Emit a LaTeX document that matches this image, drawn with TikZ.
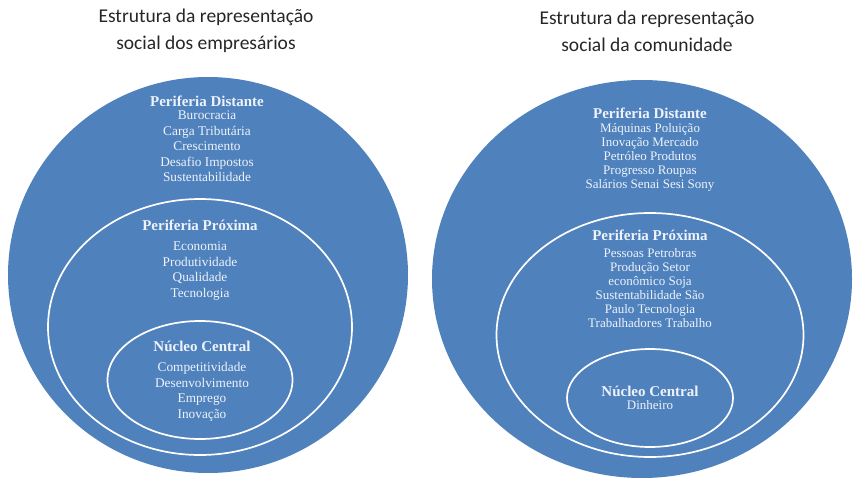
\documentclass[tikz,border=0pt]{standalone}
\usepackage{fontspec}
\setmainfont{Liberation Serif}
\newfontfamily\titlefont{Carlito}
\usepackage{xcolor}
\usetikzlibrary{shapes.geometric, positioning}
\definecolor{ringblue}{HTML}{4F81BD}
\definecolor{ringtext}{HTML}{EEF3FB}
\tikzstyle{outer} = [ellipse, fill=ringblue, inner sep=0pt]
\tikzstyle{ring} = [ellipse, draw=white, line width=1.7pt, inner sep=0pt]
\tikzstyle{title} = [align=center, text=black!85, font=\titlefont\fontsize{19.5}{27}\selectfont]
\tikzstyle{head} = [inner sep=0pt, text=ringtext, font=\bfseries\fontsize{15}{15}\selectfont]
\tikzstyle{items} = [align=center, inner sep=0pt, text=ringtext, font=\fontsize{13.3}{15.5}\selectfont]
\tikzstyle{smallitems} = [align=center, inner sep=0pt, text=ringtext, font=\fontsize{13}{14}\selectfont]

\begin{document}
\begin{tikzpicture}[x=1pt, y=-1pt, node distance=4pt]
        \useasboundingbox (0,0) rectangle (854,479);

        % empresarios
        \node[title] (titleA) at (206,31) {Estrutura da representação\\social dos empresários};
        \node[outer, minimum width=400pt, minimum height=396pt] (outerA) at (208,275) {};
        \node[ring, minimum width=304pt, minimum height=256pt] (midA) at (200,327) {};
        \node[ring, minimum width=185pt, minimum height=118pt] (coreA) at (200,380) {};
        \node[head] (distA) at (207,101) {Periferia Distante};
        \node[items, below=4pt of distA] (distAlist) {Burocracia\\Carga Tributária\\Crescimento\\Desafio Impostos\\Sustentabilidade};
        \node[head] (proxA) at (200,225) {Periferia Próxima};
        \node[items, below=11pt of proxA] (proxAlist) {Economia\\Produtividade\\Qualidade\\Tecnologia};
        \node[head] (nucA) at (202,346) {Núcleo Central};
        \node[items, below=11pt of nucA] (nucAlist) {Competitividade\\Desenvolvimento\\Emprego\\Inovação};

        % comunidade
        \node[title] (titleB) at (647,31) {Estrutura da representação\\social da comunidade};
        \node[outer, minimum width=420pt, minimum height=398pt] (outerB) at (642,279) {};
        \node[ring, minimum width=307pt, minimum height=244pt] (midB) at (650,335) {};
        \node[ring, minimum width=166pt, minimum height=98pt] (coreB) at (650,398) {};
        \node[head] (distB) at (650,113) {Periferia Distante};
        \node[smallitems, below=5pt of distB] (distBlist) {Máquinas Poluição\\Inovação Mercado\\Petróleo Produtos\\Progresso Roupas\\Salários Senai Sesi Sony};
        \node[head] (proxB) at (650,235) {Periferia Próxima};
        \node[smallitems, below=8pt of proxB] (proxBlist) {Pessoas Petrobras\\Produção Setor\\econômico Soja\\Sustentabilidade São\\Paulo Tecnologia\\Trabalhadores Trabalho};
        \node[head] (nucB) at (650,391) {Núcleo Central};
        \node[smallitems, below=4pt of nucB] (nucBlist) {Dinheiro};
    \end{tikzpicture}
\end{document}
